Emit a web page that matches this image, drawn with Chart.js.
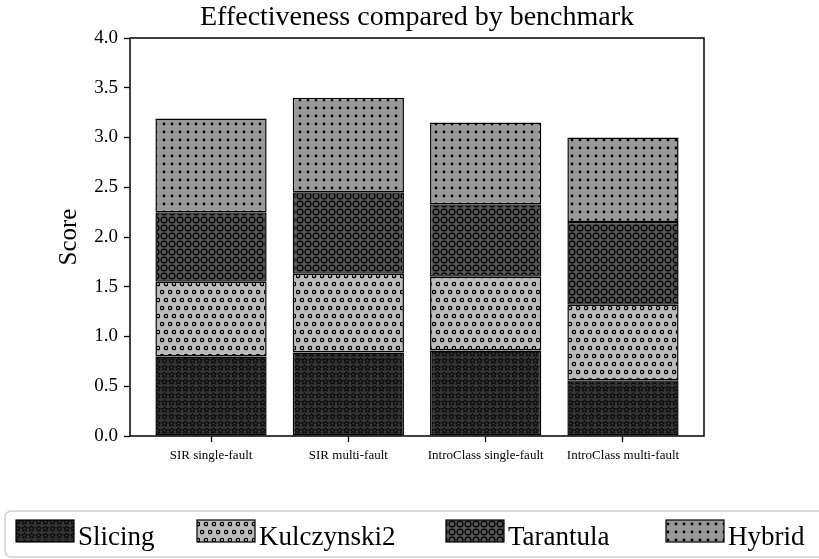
<!DOCTYPE html>
<html>
<head>
<meta charset="utf-8">
<script src="https://cdn.jsdelivr.net/npm/chart.js@4"></script>
<style>
  html, body { margin: 0; padding: 0; background: #fff; }
  #wrap { width: 819px; height: 559px; position: relative; }
</style>
</head>
<body>
<div id="wrap"><canvas id="chart" width="819" height="559"></canvas></div>
<script>
// data
const categories = ['SIR single-fault', 'SIR multi-fault', 'IntroClass single-fault', 'IntroClass multi-fault'];
const seriesNames = ['Slicing', 'Kulczynski2', 'Tarantula', 'Hybrid'];
const slicing     = [0.80, 0.84, 0.86, 0.56];
const kulczynski2 = [0.75, 0.79, 0.74, 0.76];
const tarantula   = [0.70, 0.82, 0.73, 0.83];
const hybrid      = [0.94, 0.95, 0.82, 0.85];
const yTicks = [0, 0.5, 1.0, 1.5, 2.0, 2.5, 3.0, 3.5, 4.0];

const SERIF = '"Liberation Serif", "DejaVu Serif", serif';
const legendSlots = [16, 197, 446, 666]; // swatch left edges

// hatch tiles
function makePattern(bg, w, h, draw) {
  const c = document.createElement('canvas');
  c.width = w; c.height = h;
  const g = c.getContext('2d');
  g.fillStyle = bg;
  g.fillRect(0, 0, w, h);
  g.strokeStyle = '#000';
  g.fillStyle = '#000';
  draw(g);
  return g.createPattern(c, 'repeat');
}

function star(g, cx, cy, r) {
  g.beginPath();
  for (let i = 0; i < 10; i++) {
    const rr = i % 2 === 0 ? r : r * 0.45;
    const a = -Math.PI / 2 + i * Math.PI / 5;
    const x = cx + rr * Math.cos(a), y = cy + rr * Math.sin(a);
    if (i === 0) g.moveTo(x, y); else g.lineTo(x, y);
  }
  g.closePath();
  g.stroke();
}

const patStars = makePattern('#333333', 7, 7, g => { g.lineWidth = 0.9; star(g, 3.5, 3.7, 3); });
const patSmallO = makePattern('#bcbcbc', 8, 16, g => {
  g.lineWidth = 1.3;
  g.beginPath(); g.arc(2, 4, 1.7, 0, Math.PI * 2); g.stroke();
  g.beginPath(); g.arc(6, 12, 1.7, 0, Math.PI * 2); g.stroke();
});
const patBigO = makePattern('#555555', 8, 8, g => {
  g.lineWidth = 1.2;
  g.beginPath(); g.arc(4, 4, 2.9, 0, Math.PI * 2); g.stroke();
});
const patDots = makePattern('#999999', 8, 8, g => {
  g.beginPath(); g.arc(4, 4, 1.4, 0, Math.PI * 2); g.fill();
});

const fills = [patStars, patSmallO, patBigO, patDots];
const values = [slicing, kulczynski2, tarantula, hybrid];

const datasets = seriesNames.map((name, k) => ({
  label: name,
  data: values[k].map((v, i) => ({ x: i, y: v })),
  backgroundColor: fills[k],
  borderColor: '#000',
  borderWidth: 1.5,
  borderSkipped: false,
  categoryPercentage: 1.0,
  barPercentage: 0.81
}));

// frame, title and legend
const decorations = {
  id: 'decorations',
  afterDraw(chart) {
    const { ctx, chartArea: a } = chart;
    ctx.save();
    ctx.strokeStyle = '#000';
    ctx.lineWidth = 1.5;
    ctx.strokeRect(a.left, a.top, a.right - a.left, a.bottom - a.top);

    ctx.fillStyle = '#000';
    ctx.font = '28px ' + SERIF;
    ctx.textAlign = 'center';
    ctx.textBaseline = 'alphabetic';
    ctx.fillText('Effectiveness compared by benchmark', (a.left + a.right) / 2, 25);

    // legend box
    ctx.beginPath();
    ctx.roundRect(5, 511, 840, 46, 6);
    ctx.fillStyle = '#fff';
    ctx.fill();
    ctx.strokeStyle = '#d0d0d0';
    ctx.lineWidth = 1.5;
    ctx.stroke();

    ctx.font = '27px ' + SERIF;
    ctx.textAlign = 'left';
    chart.data.datasets.forEach((ds, k) => {
      const x = legendSlots[k];
      ctx.fillStyle = ds.backgroundColor;
      ctx.fillRect(x, 520, 58, 22);
      ctx.strokeStyle = '#000';
      ctx.lineWidth = 1.2;
      ctx.strokeRect(x, 520, 58, 22);
      ctx.fillStyle = '#000';
      ctx.fillText(ds.label, x + 62, 545);
    });
    ctx.restore();
  }
};

new Chart(document.getElementById('chart'), {
  type: 'bar',
  data: { datasets },
  plugins: [decorations],
  options: {
    responsive: false,
    animation: false,
    layout: { padding: { top: 38, right: 115, bottom: 93, left: 0 } },
    plugins: { legend: { display: false }, title: { display: false }, tooltip: { enabled: false } },
    scales: {
      x: {
        type: 'linear',
        stacked: true,
        offset: false,
        min: -0.59,
        max: 3.59,
        afterBuildTicks: s => { s.ticks = categories.map((c, i) => ({ value: i })); },
        afterFit: s => { s.height = 30; },
        ticks: {
          callback: v => categories[v],
          color: '#000',
          font: { family: SERIF, size: 13 },
          padding: 6,
          maxRotation: 0,
          autoSkip: false
        },
        grid: { offset: false, drawOnChartArea: false, tickLength: 6, tickColor: '#000', tickWidth: 1.3 },
        border: { display: false }
      },
      y: {
        stacked: true,
        min: 0,
        max: 4,
        afterBuildTicks: s => { s.ticks = yTicks.map(v => ({ value: v })); },
        afterFit: s => { s.width = 130; },
        ticks: {
          callback: v => v.toFixed(1),
          color: '#000',
          font: { family: SERIF, size: 19 },
          padding: 6
        },
        title: {
          display: true,
          text: 'Score',
          color: '#000',
          font: { family: SERIF, size: 25 },
          padding: { top: 54, bottom: 0 }
        },
        grid: { drawOnChartArea: false, tickLength: 6, tickColor: '#000', tickWidth: 1.3 },
        border: { display: false }
      }
    }
  }
});
</script>
</body>
</html>
